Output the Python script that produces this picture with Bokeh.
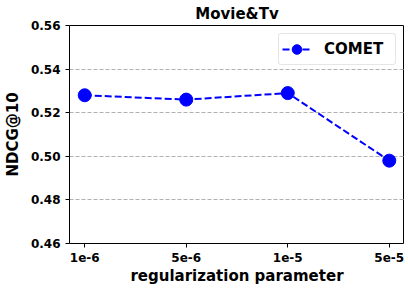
from bokeh.plotting import figure
from bokeh.models import Range1d, FixedTicker, Legend, LegendItem
from bokeh.embed import file_html
from bokeh.resources import INLINE

categories = ["1e-6", "5e-6", "1e-5", "5e-5"]
ndcg = [0.528, 0.526, 0.529, 0.498]
y_ticks = [0.46, 0.48, 0.50, 0.52, 0.54, 0.56]

xs = list(range(len(categories)))
FONT = "DejaVu Sans"

p = figure(width=392, height=272, output_backend="svg", toolbar_location=None,
           x_range=Range1d(-0.15, 3.15), y_range=Range1d(0.46, 0.56),
           title="Movie&Tv", min_border_left=0, min_border_right=0,
           min_border_top=0, min_border_bottom=0)
p.frame_width = 335
p.frame_height = 218

p.title.align = "center"
p.title.text_font = FONT
p.title.text_font_size = "15px"
p.title.text_font_style = "bold"
p.title.text_color = "black"
p.title.standoff = 5
p.title.offset = 0

line = p.line(xs, ndcg, line_color="#0000ff", line_width=2, line_dash="7 3")
pts = p.scatter(xs, ndcg, size=13, fill_color="#0000ff", line_color="#0000ff")

p.xaxis.ticker = FixedTicker(ticks=xs)
p.xaxis.major_label_overrides = {i: c for i, c in enumerate(categories)}
p.yaxis.ticker = FixedTicker(ticks=y_ticks)
p.yaxis.major_label_overrides = {t: f"{t:.2f}" for t in y_ticks}

for ax in (p.xaxis, p.yaxis):
    ax.major_label_text_font = FONT
    ax.major_label_text_font_style = "bold"
    ax.major_label_text_font_size = "12px"
    ax.major_label_text_color = "black"
    ax.axis_label_text_font = FONT
    ax.axis_label_text_font_style = "bold"
    ax.axis_label_text_font_size = "15px"
    ax.axis_label_text_color = "black"
    ax.minor_tick_line_color = None
    ax.major_tick_in = 0
    ax.major_tick_out = 4
    ax.axis_line_color = None
    ax.major_tick_line_color = "black"

p.xaxis.axis_label = "regularization parameter"
p.yaxis.axis_label = "NDCG@10"
p.xaxis.axis_label_standoff = 2
p.yaxis.axis_label_standoff = 6

p.outline_line_color = "black"
p.outline_line_width = 1
p.xgrid.grid_line_color = None
p.ygrid.grid_line_color = "#b0b0b0"
p.ygrid.grid_line_dash = "4 2"
p.ygrid.grid_line_width = 1

legend = Legend(items=[LegendItem(label="COMET", renderers=[line, pts])],
                location="top_right")
legend.label_text_font = FONT
legend.label_text_font_style = "bold"
legend.label_text_font_size = "15px"
legend.label_text_color = "black"
legend.border_line_color = "#cccccc"
legend.border_line_width = 1
legend.background_fill_alpha = 0.8
legend.glyph_width = 29
legend.glyph_height = 24
legend.label_height = 24
legend.label_width = 68
legend.padding = 3
legend.spacing = 0
legend.margin = 8
legend.label_standoff = 13
legend.border_radius = 3
p.add_layout(legend)

open("out.html", "w").write(file_html(p, INLINE))
